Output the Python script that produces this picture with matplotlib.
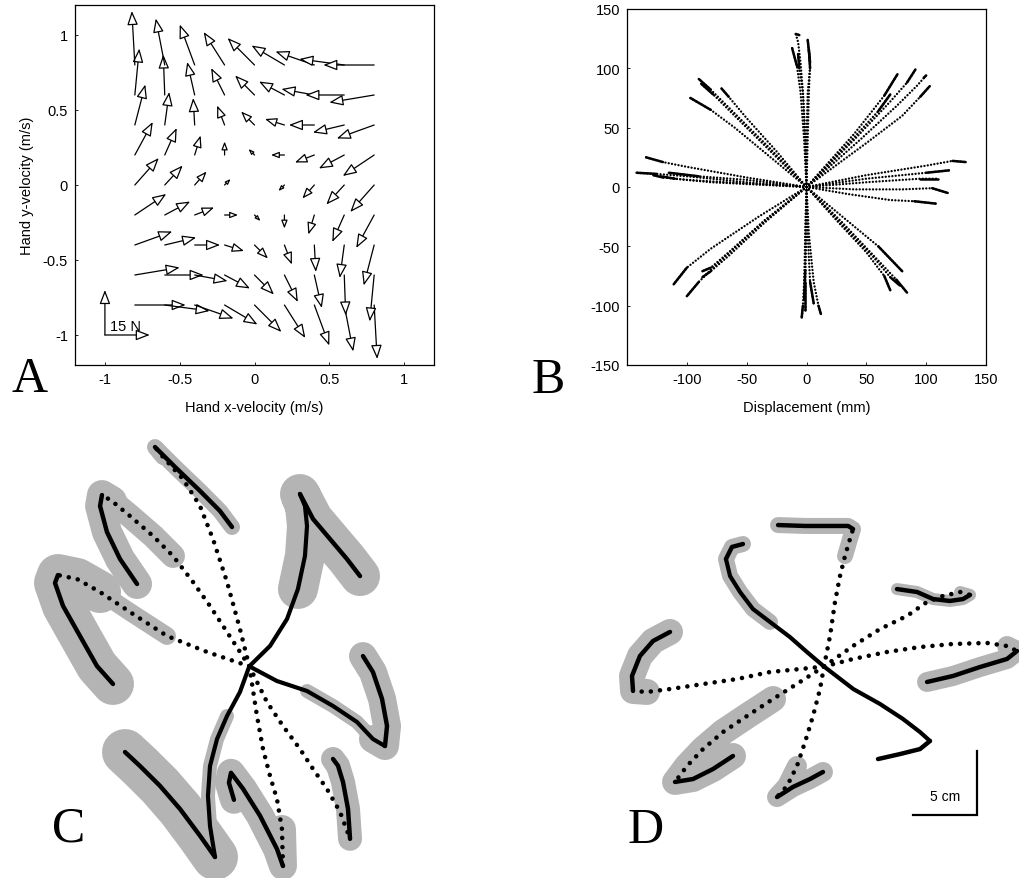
"""
Reaching in a velocity-dependent force field: field (A), baseline
reaches (B), first reaches in the field (C) and after-effects (D).
"""
import numpy as np
import matplotlib
matplotlib.use('Agg')
import matplotlib.pyplot as plt

# ---------------- panel A: force field (arrow units: 15 N = 0.3) -------------
a_x = [-0.8, -0.6, -0.4, -0.2, 0.0, 0.2, 0.4, 0.6, 0.8]
a_y = [-0.8, -0.6, -0.4, -0.2, 0.0, 0.2, 0.4, 0.6, 0.8]
a_u = [
    [0.34, 0.30, 0.26, 0.22, 0.18, 0.14, 0.10, 0.06, 0.02],
    [0.30, 0.26, 0.22, 0.17, 0.13, 0.09, 0.05, 0.01, -0.03],
    [0.25, 0.21, 0.17, 0.13, 0.09, 0.05, 0.01, -0.03, -0.07],
    [0.21, 0.17, 0.13, 0.09, 0.04, 0.00, -0.04, -0.08, -0.12],
    [0.16, 0.12, 0.08, 0.04, 0.00, -0.04, -0.08, -0.12, -0.16],
    [0.12, 0.08, 0.04, 0.00, -0.04, -0.09, -0.13, -0.17, -0.21],
    [0.07, 0.03, -0.01, -0.05, -0.09, -0.13, -0.17, -0.21, -0.25],
    [0.03, -0.01, -0.05, -0.09, -0.13, -0.17, -0.22, -0.26, -0.30],
    [-0.02, -0.06, -0.10, -0.14, -0.18, -0.22, -0.26, -0.30, -0.34],
]
a_v = [
    [0.00, -0.04, -0.09, -0.13, -0.18, -0.22, -0.27, -0.31, -0.36],
    [0.05, 0.00, -0.04, -0.09, -0.13, -0.18, -0.22, -0.27, -0.31],
    [0.09, 0.05, 0.00, -0.04, -0.09, -0.13, -0.18, -0.22, -0.27],
    [0.14, 0.09, 0.05, 0.00, -0.04, -0.09, -0.13, -0.18, -0.22],
    [0.18, 0.13, 0.09, 0.04, 0.00, -0.04, -0.09, -0.13, -0.18],
    [0.22, 0.18, 0.13, 0.09, 0.04, 0.00, -0.05, -0.09, -0.14],
    [0.27, 0.22, 0.18, 0.13, 0.09, 0.04, 0.00, -0.05, -0.09],
    [0.31, 0.27, 0.22, 0.18, 0.13, 0.09, 0.04, 0.00, -0.05],
    [0.36, 0.31, 0.27, 0.22, 0.18, 0.13, 0.09, 0.04, 0.00],
]
a_ticks = [-1, -0.5, 0, 0.5, 1]
a_tick_labels = ['-1', '-0.5', '0', '0.5', '1']

# ---------------- panel B: baseline hand paths (mm) -------------------------
b_north = [
    [(0, 0), (-1, 40), (-3, 80), (-5, 105), (-7, 122), (-9, 129), (-6, 128)],
    [(0, 0), (-2, 40), (-5, 80), (-8, 102), (-12, 117)],
    [(0, 0), (1, 40), (2, 80), (3, 105), (1, 124)],
    [(0, 0), (-1, 40), (-3, 80), (-6, 100), (-7, 112)],
    [(0, 0), (0, 40), (1, 80), (3, 100), (2, 116)],
]
b_northeast = [
    [(0, 0), (40, 45), (65, 77), (76, 95)],
    [(0, 0), (40, 40), (70, 72), (84, 88), (91, 99)],
    [(0, 0), (45, 40), (75, 68), (92, 85), (100, 94), (98, 92)],
    [(0, 0), (50, 37), (80, 60), (95, 76), (103, 85)],
    [(0, 0), (40, 42), (60, 64), (70, 78)],
]
b_east = [
    [(0, 0), (50, 10), (100, 18), (122, 22), (133, 21)],
    [(0, 0), (50, 7), (100, 12), (119, 14)],
    [(0, 0), (50, 4), (95, 7), (110, 7)],
    [(0, 0), (40, -2), (80, -2), (105, -1), (118, -5)],
    [(0, 0), (35, -6), (70, -11), (90, -12), (108, -14)],
]
b_southeast = [
    [(0, 0), (30, -25), (60, -50), (80, -71)],
    [(0, 0), (30, -30), (60, -62), (75, -78), (84, -89)],
    [(0, 0), (25, -28), (50, -55), (65, -75), (70, -87)],
    [(0, 0), (30, -32), (55, -58), (70, -76), (78, -83)],
]
b_south = [
    [(0, 0), (-1, -40), (-2, -80), (-3, -100), (-4, -110)],
    [(0, 0), (2, -40), (6, -80), (10, -100), (12, -107)],
    [(0, 0), (1, -40), (3, -80), (6, -98)],
    [(0, 0), (-1, -40), (-1, -80), (-1, -104)],
    [(0, 0), (0, -40), (-1, -70), (-2, -95)],
]
b_southwest = [
    [(0, 0), (-40, -25), (-80, -52), (-100, -68), (-111, -82)],
    [(0, 0), (-40, -33), (-75, -65), (-90, -80), (-100, -92)],
    [(0, 0), (-35, -28), (-65, -55), (-80, -68), (-87, -71)],
    [(0, 0), (-35, -30), (-65, -58), (-80, -71), (-87, -76)],
]
b_west = [
    [(0, 0), (-50, 8), (-100, 17), (-120, 21), (-134, 25)],
    [(0, 0), (-50, 4), (-100, 9), (-125, 11), (-142, 12)],
    [(0, 0), (-50, 3), (-100, 6), (-120, 8), (-128, 10)],
    [(0, 0), (-40, 2), (-80, 4), (-110, 7), (-122, 9)],
    [(0, 0), (-50, 6), (-90, 9), (-115, 12)],
]
b_northwest = [
    [(0, 0), (-30, 32), (-60, 62), (-80, 82), (-90, 91)],
    [(0, 0), (-30, 25), (-60, 50), (-80, 65), (-97, 75)],
    [(0, 0), (-25, 30), (-50, 58), (-65, 76), (-71, 83)],
    [(0, 0), (-30, 30), (-60, 60), (-78, 78), (-88, 87)],
]
b_xticks = [-100, -50, 0, 50, 100, 150]
b_yticks = [-150, -100, -50, 0, 50, 100, 150]

# ---------------- panel C: first reaches in the field (cm from start) --------
c_n_out = [(-0.73, 2.91), (-1.74, 6.59), (-2.84, 9.95), (-3.85, 12.52),
           (-5.18, 14.63), (-6.74, 16.35), (-7.37, 17.13)]
c_n_back = [(-5.80, 15.57), (-3.85, 13.70), (-2.29, 12.13), (-1.35, 10.88)]
c_nw_out = [(-1.74, 2.68), (-3.07, 4.71), (-4.40, 6.59), (-5.96, 8.62),
            (-7.52, 10.18), (-9.32, 11.74), (-10.73, 12.91), (-11.51, 13.38)]
c_nw_back = [(-11.66, 12.52), (-11.12, 10.49), (-10.10, 8.38), (-8.77, 6.43)]
c_w_out = [(-3.30, 1.12), (-6.43, 2.37), (-9.32, 4.24), (-11.66, 5.80),
           (-13.46, 6.82), (-14.95, 7.13)]
c_w_back = [(-15.18, 6.51), (-14.55, 4.71), (-13.23, 2.37), (-11.90, 0.02),
            (-10.65, -1.38)]
c_sw_out = [(-0.73, -2.01), (-1.74, -3.88), (-2.52, -5.68), (-3.07, -7.79),
            (-3.23, -10.13), (-3.07, -12.48), (-2.68, -14.90)]
c_sw_back = [(-3.85, -13.24), (-5.41, -11.15), (-6.98, -9.34), (-8.54, -7.79),
             (-9.71, -6.70)]
c_s_out = [(0.60, -3.88), (1.07, -6.46), (1.62, -8.57), (2.16, -10.37),
           (2.55, -12.71), (2.63, -15.60)]
c_s_back = [(2.16, -14.27), (0.84, -11.68), (-0.49, -9.57), (-1.43, -8.32),
            (-1.59, -9.10), (-1.20, -10.43)]
c_se_out = [(1.38, -2.79), (2.63, -4.66), (3.96, -6.46), (4.98, -8.02),
            (6.07, -9.59), (7.09, -11.38), (7.87, -13.48)]
c_se_back = [(7.71, -11.13), (7.32, -9.04), (6.93, -7.77), (6.54, -7.24)]
c_e_out = [(2.16, -1.15), (4.51, -1.93), (6.54, -3.10), (8.41, -4.35),
           (9.66, -5.68), (10.60, -6.23)]
c_e_back = [(10.76, -4.66), (10.37, -2.55), (9.66, -0.45), (8.88, 0.80)]
c_ne_out = [(1.62, 1.59), (2.95, 3.70), (3.80, 6.04), (4.35, 8.62),
            (4.51, 10.96), (4.35, 12.52), (3.96, 13.46)]
c_ne_back = [(4.98, 11.51), (6.30, 9.95), (7.63, 8.38), (8.65, 7.05)]

# ---------------- panel D: after-effects (cm from start) --------------------
d_n_out = [(0.47, 2.38), (0.86, 5.04), (1.25, 7.07), (1.64, 8.63),
           (2.03, 9.96), (2.27, 10.74)]
d_n_back = [(1.88, 10.98), (0.47, 10.98), (-1.48, 10.98), (-3.59, 11.05)]
d_nw_out = [(-1.33, 1.13), (-2.66, 2.30), (-4.22, 3.48), (-5.55, 4.49),
            (-6.56, 5.82), (-7.34, 7.07), (-7.66, 8.40)]
d_nw_back = [(-7.19, 9.34), (-6.33, 9.57)]
d_w_out = [(-1.88, -0.20), (-4.22, -0.43), (-6.80, -0.98), (-9.45, -1.37),
           (-12.03, -1.76), (-13.83, -1.99), (-14.92, -1.91)]
d_w_back = [(-15.00, -0.74), (-14.38, 0.82), (-13.36, 1.99), (-12.03, 2.70)]
d_sw_out = [(-1.88, -1.21), (-3.98, -2.54), (-6.02, -3.87), (-7.89, -5.12),
            (-9.45, -6.45), (-10.70, -7.77), (-11.64, -9.02)]
d_sw_back = [(-10.23, -8.79), (-8.67, -8.01), (-7.11, -6.99)]
d_s_out = [(-0.31, -1.76), (-0.86, -3.87), (-1.48, -5.90), (-2.11, -7.77),
           (-2.89, -9.34), (-3.67, -10.20)]
d_s_back = [(-2.42, -9.41), (-1.09, -8.79), (-0.08, -8.24)]
d_se_out = [(2.29, -1.76), (4.38, -2.93), (6.17, -4.10), (7.50, -5.12),
            (8.28, -5.82)]
d_se_back = [(7.50, -6.45), (5.94, -6.84), (4.22, -7.23)]
d_e_out = [(2.29, 0.59), (4.90, 1.13), (7.50, 1.52), (10.08, 1.76),
           (12.73, 1.84), (14.30, 1.60), (15.08, 1.21)]
d_e_back = [(14.30, 0.59), (12.19, -0.04), (10.08, -0.74), (8.05, -1.21)]
d_ene_out = [(2.29, 1.62), (4.38, 2.93), (6.48, 3.95), (8.05, 5.04),
             (9.30, 5.51), (10.63, 5.82), (11.41, 5.59)]
d_ene_back = [(10.86, 5.27), (9.84, 5.12), (8.52, 5.27), (7.27, 5.82),
              (5.70, 6.05)]
scale_bar_cm = 5

# ---------------------------------------------------------------------------
W, H = 1019, 879
PX = 12.8          # pixels per cm in panels C and D
HALO = '#b4b4b4'
SANS = 'Liberation Sans'
SERIF = 'Liberation Serif'
plt.rcParams['font.family'] = SANS
plt.rcParams['axes.unicode_minus'] = False

fig = plt.figure(figsize=(W / 100, H / 100), dpi=100)


def box(x0, y0, x1, y1):
    """Pixel box (top-left origin) -> figure fraction rect."""
    return [x0 / W, 1 - y1 / H, (x1 - x0) / W, (y1 - y0) / H]


def style_frame(ax):
    for s in ax.spines.values():
        s.set_linewidth(0.9)
    ax.tick_params(direction='in', length=2, width=0.6, labelsize=10.5, pad=5)


# ---- A ----
axA = fig.add_axes(box(75, 6, 434, 366))
axA.set_xlim(-1.2, 1.2)
axA.set_ylim(-1.2, 1.2)
head = '-|>,head_length=0.65,head_width=0.25'
for j, yv in enumerate(a_y):
    for i, xv in enumerate(a_x):
        u, v = a_u[j][i], a_v[j][i]
        L = np.hypot(u, v)
        if L < 0.01:
            continue
        ms = 13 * min(1.0, L / 0.16)
        axA.annotate('', xy=(xv + u, yv + v), xytext=(xv, yv),
                     arrowprops=dict(arrowstyle=head, fc='white', ec='black',
                                     lw=0.9, shrinkA=0, shrinkB=0,
                                     mutation_scale=ms))
# 15 N scale arrows
for tip in [(-1, -0.7), (-0.7, -1)]:
    axA.annotate('', xy=tip, xytext=(-1, -1),
                 arrowprops=dict(arrowstyle=head, fc='white', ec='black',
                                 lw=0.9, shrinkA=0, shrinkB=0,
                                 mutation_scale=13))
axA.text(-0.86, -0.985, '15 N', ha='center', va='bottom', fontsize=10.5)
axA.set_xticks(a_ticks, a_tick_labels)
axA.set_yticks(a_ticks, a_tick_labels)
axA.set_xlabel('Hand x-velocity (m/s)', fontsize=10.5, labelpad=10)
axA.set_ylabel('Hand y-velocity (m/s)', fontsize=10.5, labelpad=6)
style_frame(axA)

# ---- B ----
axB = fig.add_axes(box(627, 10, 986, 366))
axB.set_xlim(-150, 150)
axB.set_ylim(-150, 150)
for group in [b_north, b_northeast, b_east, b_southeast,
              b_south, b_southwest, b_west, b_northwest]:
    for path in group:
        xs = [p[0] for p in path]
        ys = [p[1] for p in path]
        axB.plot(xs, ys, color='black', lw=1.7, ls=(0, (0.01, 1.4)),
                 dash_capstyle='round')
        axB.plot(xs[-2:], ys[-2:], color='black', lw=1.8,
                 solid_capstyle='round')
axB.set_xticks(b_xticks)
axB.set_yticks(b_yticks)
axB.set_xlabel('Displacement (mm)', fontsize=10.5, labelpad=10)
style_frame(axB)


# ---- C and D ----
def reach_axes(x0, y0, x1, y1, cx, cy):
    ax = fig.add_axes(box(x0, y0, x1, y1))
    ax.set_xlim((x0 - cx) / PX, (x1 - cx) / PX)
    ax.set_ylim((cy - y1) / PX, (cy - y0) / PX)
    ax.axis('off')
    return ax


def draw_reach(ax, out_pts, back_pts, out_style, halos):
    path = [(0.0, 0.0)] + out_pts
    for tail, width_px in halos:
        seg = path[-tail:] + back_pts
        ax.plot([p[0] for p in seg], [p[1] for p in seg], color=HALO,
                lw=width_px * 0.72, solid_capstyle='round',
                solid_joinstyle='round', zorder=1, clip_on=False)
    xs = [p[0] for p in path]
    ys = [p[1] for p in path]
    if out_style == 'dotted':
        ax.plot(xs, ys, color='black', lw=3.3, ls=(0, (0.01, 2.0)),
                dash_capstyle='round', zorder=3, clip_on=False)
    else:
        ax.plot(xs, ys, color='black', lw=3.0, solid_capstyle='round',
                solid_joinstyle='round', zorder=3, clip_on=False)
    seg = [path[-1]] + back_pts
    ax.plot([p[0] for p in seg], [p[1] for p in seg], color='black', lw=3.2,
            solid_capstyle='round', solid_joinstyle='round', zorder=3,
            clip_on=False)


axC = reach_axes(0, 430, 470, 879, 249.3, 667.3)
c_reaches = [
    (c_n_out, c_n_back, 'dotted', [(2, 16)]),
    (c_nw_out, c_nw_back, 'dotted', [(5, 24), (2, 30)]),
    (c_w_out, c_w_back, 'dotted', [(3, 42), (5, 18)]),
    (c_sw_out, c_sw_back, 'solid', [(1, 46), (6, 14)]),
    (c_s_out, c_s_back, 'dotted', [(2, 28)]),
    (c_se_out, c_se_back, 'dotted', [(1, 24)]),
    (c_e_out, c_e_back, 'solid', [(2, 28), (5, 14)]),
    (c_ne_out, c_ne_back, 'solid', [(5, 40), (1, 18)]),
]
for out_pts, back_pts, st, halos in c_reaches:
    draw_reach(axC, out_pts, back_pts, st, halos)

axD = reach_axes(580, 500, 1019, 879, 824, 667.5)
d_reaches = [
    (d_n_out, d_n_back, 'dotted', [(3, 16)]),
    (d_nw_out, d_nw_back, 'solid', [(5, 16)]),
    (d_w_out, d_w_back, 'dotted', [(2, 26)]),
    (d_sw_out, d_sw_back, 'dotted', [(6, 26)]),
    (d_s_out, d_s_back, 'dotted', [(3, 20)]),
    (d_se_out, d_se_back, 'solid', []),
    (d_e_out, d_e_back, 'dotted', [(2, 20)]),
    (d_ene_out, d_ene_back, 'dotted', [(2, 12)]),
]
for out_pts, back_pts, st, halos in d_reaches:
    draw_reach(axD, out_pts, back_pts, st, halos)

# 5 cm scale bar
bx, by = (977 - 824) / PX, (667.5 - 816) / PX
axD.plot([bx - scale_bar_cm, bx, bx], [by, by, by + scale_bar_cm],
         color='black', lw=1.6, solid_joinstyle='miter', clip_on=False)
axD.text(bx - scale_bar_cm / 2, by + 1.5, '5 cm', ha='center',
         va='center', fontsize=10)

# panel letters
for letter, x, y in [('A', 11, 392), ('B', 532, 393),
                     ('C', 52, 842), ('D', 628, 843)]:
    fig.text(x / W, 1 - y / H, letter, family=SERIF, fontsize=36,
             ha='left', va='baseline')

fig.savefig('out.png', dpi=100)
